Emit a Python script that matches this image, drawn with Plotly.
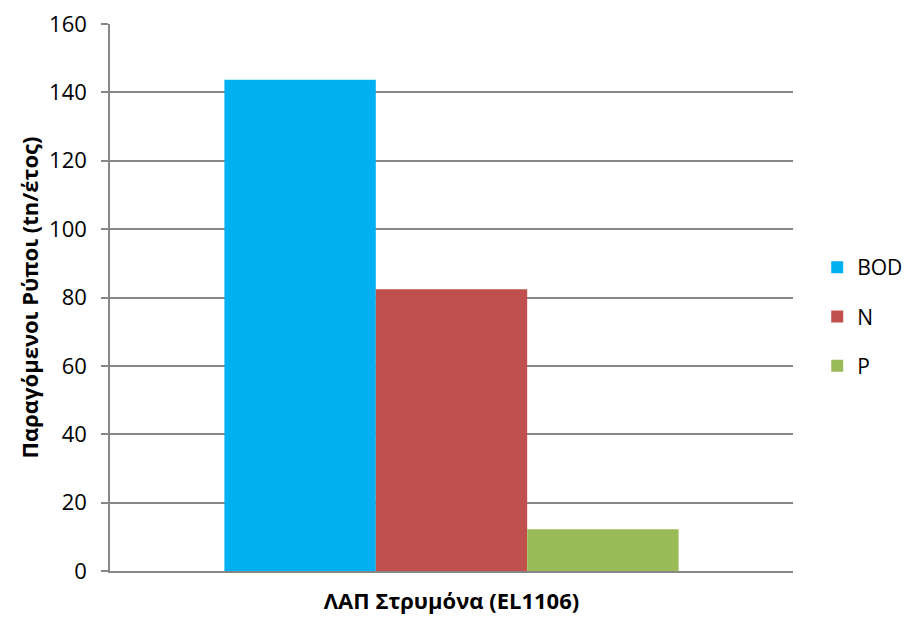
import plotly.graph_objects as go

categories = ["ΛΑΠ Στρυμόνα (EL1106)"]
series_names = ["BOD", "N", "P"]
bod_values = [143.7]
n_values = [82.4]
p_values = [12.2]
colors = ["#00B0F0", "#C0504D", "#9BBB59"]
y_ticks = [0, 20, 40, 60, 80, 100, 120, 140, 160]

fig = go.Figure()
for name, vals, col in zip(series_names, [bod_values, n_values, p_values], colors):
    fig.add_trace(go.Bar(x=categories, y=vals, name=name, legendgroup=name,
                         marker=dict(color=col, line=dict(width=0))))

font_family = "Open Sans, Noto Sans, sans-serif"
fig.update_layout(
    width=906, height=617,
    margin=dict(l=110, r=113, t=24, b=46, autoexpand=False),
    paper_bgcolor="white", plot_bgcolor="white",
    barmode="group", bargap=0.335, bargroupgap=0,
    font=dict(family=font_family, size=20, color="#000000"),
    showlegend=True,
    legend=dict(xref="container", yref="container", x=0.902, y=0.487,
                xanchor="left", yanchor="middle",
                font=dict(size=21), tracegroupgap=19, itemwidth=30,
                traceorder="grouped",
                bgcolor="rgba(0,0,0,0)"),
    xaxis=dict(showgrid=False, showline=True, linecolor="#868686", linewidth=2,
               ticks="", tickfont=dict(size=22, family=font_family),
               ticklabelstandoff=10, tickprefix="<b>", ticksuffix="</b>",
               automargin=False),
    yaxis=dict(range=[0, 160], tickvals=y_ticks, showgrid=True, gridcolor="#868686",
               gridwidth=1.5, showline=True, linecolor="#868686", linewidth=1.5,
               ticks="outside", ticklen=7, tickcolor="#868686", tickwidth=1.5,
               tickfont=dict(size=22), zeroline=False, automargin=False,
               ticklabelstandoff=10,
               title=dict(text="<b>Παραγόμενοι Ρύποι (tn/έτος)</b>", font=dict(size=22), standoff=4)),
)
fig.write_html("out.html")
